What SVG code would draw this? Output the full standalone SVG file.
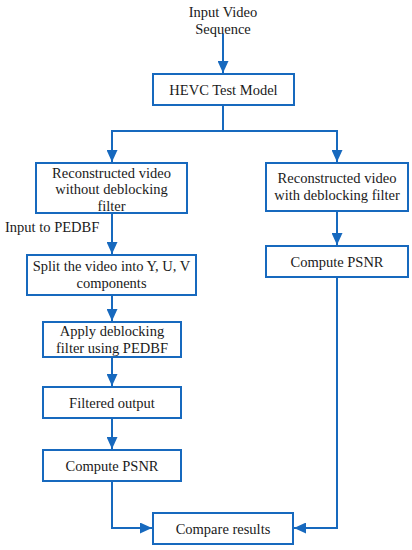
<svg xmlns="http://www.w3.org/2000/svg" width="412" height="550" viewBox="0 0 412 550">
<defs>
<marker id="ah" viewBox="0 0 12 11" refX="12" refY="5.5" markerWidth="12" markerHeight="11" markerUnits="userSpaceOnUse" orient="auto">
<path d="M0,0 L12,5.5 L0,11 z" fill="#1769be"/>
</marker>
<style>
.box{fill:#fff;stroke:#1769be;stroke-width:2}
.t{font-family:"Liberation Serif","Times New Roman",serif;font-size:14.5px;fill:#1a1a1a;text-anchor:middle}
.c{fill:none;stroke:#1769be;stroke-width:2}
</style>
</defs>
<rect width="412" height="550" fill="#fff"/>
<g id="connectors">
<path class="c" d="M223,34 V73" marker-end="url(#ah)"/>
<path class="c" d="M223,105 V131 H112 V162" marker-end="url(#ah)"/>
<path class="c" d="M223,131 H337 V162" marker-end="url(#ah)"/>
<path class="c" d="M112,213 V254" marker-end="url(#ah)"/>
<path class="c" d="M112,295 V321" marker-end="url(#ah)"/>
<path class="c" d="M112,357 V386" marker-end="url(#ah)"/>
<path class="c" d="M112,418 V449" marker-end="url(#ah)"/>
<path class="c" d="M337,211 V245" marker-end="url(#ah)"/>
<path class="c" d="M112,481 V528 H152" marker-end="url(#ah)"/>
<path class="c" d="M337,277 V528 H294" marker-end="url(#ah)"/>
</g>
<g id="input">
<text class="t" x="223" y="17">Input Video</text>
<text class="t" x="223" y="34">Sequence</text>
</g>
<g id="hevc">
<rect class="box" x="153" y="74" width="141" height="31"/>
<text class="t" x="223.5" y="94.5">HEVC Test Model</text>
</g>
<g id="recon-without">
<rect class="box" x="36" y="163" width="151" height="50"/>
<text class="t" x="111.5" y="177.5">Reconstructed video</text>
<text class="t" x="111.5" y="194">without deblocking</text>
<text class="t" x="111.5" y="210.5">filter</text>
</g>
<g id="input-label">
<text class="t" x="5" y="232" style="text-anchor:start">Input to PEDBF</text>
</g>
<g id="split">
<rect class="box" x="27" y="255" width="169" height="40"/>
<text class="t" x="111.5" y="271">Split the video into Y, U, V</text>
<text class="t" x="111.5" y="288">components</text>
</g>
<g id="apply">
<rect class="box" x="43" y="322" width="138" height="35"/>
<text class="t" x="112" y="336">Apply deblocking</text>
<text class="t" x="112" y="353">filter using PEDBF</text>
</g>
<g id="filtered">
<rect class="box" x="43" y="387" width="138" height="31"/>
<text class="t" x="112" y="407.5">Filtered output</text>
</g>
<g id="psnr-left">
<rect class="box" x="43" y="450" width="138" height="31"/>
<text class="t" x="112" y="470.5">Compute PSNR</text>
</g>
<g id="recon-with">
<rect class="box" x="266" y="163" width="142" height="48"/>
<text class="t" x="337" y="183">Reconstructed video</text>
<text class="t" x="337" y="200">with deblocking filter</text>
</g>
<g id="psnr-right">
<rect class="box" x="266" y="246" width="142" height="31"/>
<text class="t" x="337" y="266.5">Compute PSNR</text>
</g>
<g id="compare">
<rect class="box" x="153" y="513" width="140" height="31"/>
<text class="t" x="223" y="533.5">Compare results</text>
</g>
</svg>
